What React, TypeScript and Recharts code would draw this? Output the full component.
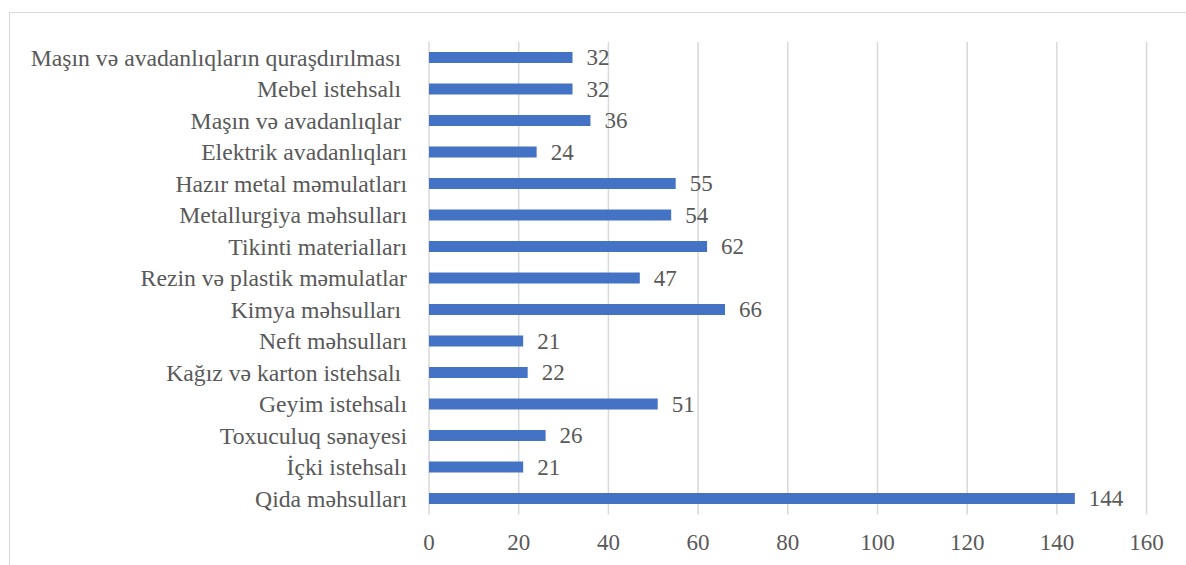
import React from 'react';
import { BarChart, Bar, XAxis, YAxis, CartesianGrid, LabelList } from 'recharts';

// Industry branches (top to bottom) and their counts
const categories: string[] = [
  'Maşın və avadanlıqların quraşdırılması ',
  'Mebel istehsalı ',
  'Maşın və avadanlıqlar ',
  'Elektrik avadanlıqları',
  'Hazır metal məmulatları',
  'Metallurgiya məhsulları',
  'Tikinti materialları',
  'Rezin və plastik məmulatlar',
  'Kimya məhsulları ',
  'Neft məhsulları',
  'Kağız və karton istehsalı ',
  'Geyim istehsalı',
  'Toxuculuq sənayesi',
  'İçki istehsalı',
  'Qida məhsulları',
];

const values: number[] = [32, 32, 36, 24, 55, 54, 62, 47, 66, 21, 22, 51, 26, 21, 144];

const xTicks: number[] = [0, 20, 40, 60, 80, 100, 120, 140, 160];

const data = categories.map((name, i) => ({ name, value: values[i] }));

const FONT = "'Liberation Serif', 'Times New Roman', serif";
const TEXT = '#595959';

const textStyle: React.CSSProperties = {
  fontFamily: FONT,
  fontSize: 23,
  fill: TEXT,
};

const CategoryTick = (props: any) => {
  const { x, y, payload } = props;
  return (
    <text
      x={x}
      y={y}
      textAnchor="end"
      dominantBaseline="central"
      style={{ ...textStyle, fontSize: 23.7, whiteSpace: 'pre' }}
    >
      {payload.value}
    </text>
  );
};

const ValueTick = (props: any) => {
  const { x, y, payload } = props;
  return (
    <text x={x} y={y} textAnchor="middle" dominantBaseline="central" style={textStyle}>
      {payload.value}
    </text>
  );
};

const ValueLabel = (props: any) => {
  const { x, y, width, height, value } = props;
  return (
    <text
      x={x + width + 14}
      y={y + height / 2}
      textAnchor="start"
      dominantBaseline="central"
      style={textStyle}
    >
      {value}
    </text>
  );
};

export default function App() {
  return (
    <div
      style={{
        position: 'absolute',
        left: 0,
        top: 0,
        width: 1186,
        height: 565,
        overflow: 'hidden',
        background: '#ffffff',
        fontFamily: FONT,
      }}
    >
      <div
        style={{
          position: 'absolute',
          left: 9,
          top: 12,
          width: 1300,
          height: 700,
          border: '1px solid #d9d9d9',
          boxSizing: 'border-box',
        }}
      />
      <div style={{ position: 'absolute', left: 0, top: 0 }}>
        <BarChart
          width={1186}
          height={565}
          data={data}
          layout="vertical"
          margin={{ top: 42, right: 39.4, bottom: 0, left: 0 }}
          barCategoryGap={0}
        >
          <CartesianGrid horizontal={false} stroke="#d9d9d9" strokeWidth={1.5} />
          <XAxis
            type="number"
            domain={[0, 160]}
            ticks={xTicks}
            axisLine={false}
            tickLine={false}
            tickSize={0}
            tickMargin={28}
            height={50.5}
            tick={<ValueTick />}
            interval={0}
          />
          <YAxis
            type="category"
            dataKey="name"
            width={429}
            axisLine={false}
            tickLine={false}
            tickSize={0}
            tickMargin={22}
            tick={<CategoryTick />}
            interval={0}
          />
          <Bar dataKey="value" fill="#4472C4" barSize={11} isAnimationActive={false}>
            <LabelList dataKey="value" content={<ValueLabel />} />
          </Bar>
        </BarChart>
      </div>
    </div>
  );
}
